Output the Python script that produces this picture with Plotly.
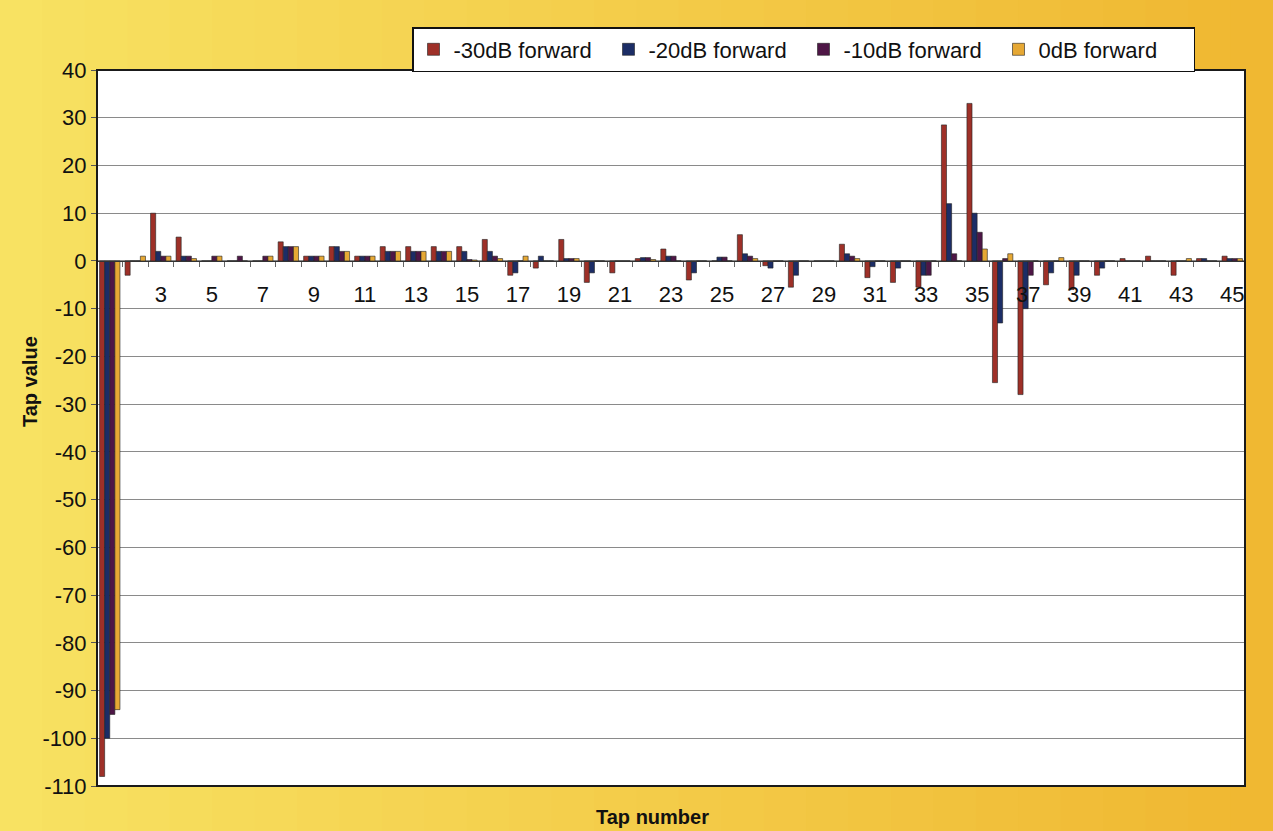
import plotly.graph_objects as go

# tap data
taps = list(range(1, 46))
fwd_30 = [-108, -3, 10, 5, 0, 0, 0, 4, 1, 3, 1, 3, 3, 3, 3, 4.5, -3, -1.5, 4.5, -4.5,
          -2.5, 0.5, 2.5, -4, 0, 5.5, -1, -5.5, 0, 3.5, -3.5, -4.5, -5.5, 28.5, 33,
          -25.5, -28, -5, -6, -3, 0.5, 1, -3, 0.5, 1]
fwd_20 = [-100, 0, 2, 1, 0, 0, 0, 3, 1, 3, 1, 2, 2, 2, 2, 2, -2.5, 1, 0.5, -2.5,
          0, 0.7, 1, -2.5, 0.8, 1.5, -1.5, -3, 0, 1.5, -1.2, -1.5, -3, 12, 10,
          -13, -10, -2.5, -3, -1.5, 0, 0, 0, 0.5, 0.5]
fwd_10 = [-95, 0, 1, 1, 1, 1, 1, 3, 1, 2, 1, 2, 2, 2, 0.3, 1, 0, 0, 0.5, 0,
          0, 0.7, 1, 0, 0.8, 1, 0, 0, 0, 1, 0, 0, -3, 1.5, 6,
          0.5, -3, 0, 0, 0, 0, 0, 0, 0, 0.5]
fwd_0 = [-94, 1, 1, 0.5, 1, 0, 1, 3, 1, 2, 1, 2, 2, 2, 0.2, 0.5, 1, 0, 0.5, 0,
         0, 0.3, 0, 0, 0, 0.5, 0, 0, 0, 0.5, 0, 0, 0, 0, 2.5,
         1.5, 0, 0.7, 0, 0, 0, 0, 0.5, 0, 0.5]

series = [
    ("-30dB forward", fwd_30, "#9E3028"),
    ("-20dB forward", fwd_20, "#1C2D66"),
    ("-10dB forward", fwd_10, "#4E1646"),
    ("0dB forward", fwd_0, "#E6A834"),
]
x_labels = list(range(3, 46, 2))
y_ticks = list(range(-110, 41, 10))

W, H = 1273, 831
L, R, T, B = 97, 28, 70, 45
pw, ph = W - L - R, H - T - B

fig = go.Figure()
for name, vals, col in series:
    fig.add_trace(go.Bar(x=taps, y=vals, name=name, marker_color=col,
                         marker_line=dict(color="#222", width=0.6)))

# yellow/orange backdrop as strips, plot area kept white on top
shapes = []
n = 30
c0, c1 = (248, 226, 98), (240, 184, 50)
for i in range(n):
    f = i / (n - 1)
    rgb = tuple(int(c0[k] + (c1[k] - c0[k]) * f) for k in range(3))
    shapes.append(dict(type="rect", xref="paper", yref="paper", layer="below",
                       x0=(-L + i * W / n) / pw, x1=(-L + (i + 1) * W / n + 1) / pw,
                       y0=-B / ph - 0.01, y1=1 + T / ph + 0.01,
                       fillcolor="rgb(%d,%d,%d)" % rgb, line=dict(width=0)))
shapes.append(dict(type="rect", xref="paper", yref="paper", layer="below",
                   x0=0, x1=1, y0=0, y1=1, fillcolor="white", line=dict(width=0)))
shapes.append(dict(type="rect", xref="paper", yref="paper", layer="above",
                   x0=0, x1=1, y0=0, y1=1, line=dict(color="#1a1a1a", width=2)))

fig.update_layout(
    width=W, height=H,
    margin=dict(l=L, r=R, t=T, b=B),
    paper_bgcolor="#F5D24E", plot_bgcolor="rgba(0,0,0,0)",
    barmode="group", bargap=0.2, bargroupgap=0,
    font=dict(family="Liberation Sans, Arial", size=21, color="#111"),
    shapes=shapes,
    legend=dict(orientation="h", x=(1195 - L) / pw, xanchor="right",
                y=1 + (T - 27) / ph, yanchor="top",
                bgcolor="white", bordercolor="#111", borderwidth=1.5,
                font=dict(size=22), traceorder="normal",
                entrywidth=150, entrywidthmode="pixels"),
    annotations=[
        dict(text="<b>Tap value</b>", xref="paper", yref="paper",
             x=(30 - L) / pw, y=(786 - 382) / ph, textangle=-90,
             xanchor="center", yanchor="middle",
             showarrow=False, font=dict(size=20)),
        dict(text="<b>Tap number</b>", xref="paper", yref="paper",
             x=(652 - L) / pw, y=(786 - 817) / ph, yanchor="middle",
             xanchor="center", showarrow=False, font=dict(size=20)),
    ],
)

fig.update_xaxes(
    range=[0.5, 45.5], tickvals=x_labels, showgrid=False, zeroline=False,
    showline=True, linecolor="#333", linewidth=1,
    anchor="free", position=110 / 150, ticks="", ticklabelstandoff=14,
    tickfont=dict(size=22),
    minor=dict(tickvals=[k + 0.5 for k in taps[:-1]], ticks="outside",
               ticklen=5, tickcolor="#666", showgrid=False),
)
fig.update_yaxes(
    range=[-110, 40], tickvals=y_ticks, ticktext=[str(v) for v in y_ticks],
    showgrid=True, gridcolor="#8a8a8a",
    gridwidth=1, zeroline=False, showline=False, ticks="outside", ticklen=5,
    tickcolor="#555", tickfont=dict(size=22),
)

fig.write_html("out.html", config={"displayModeBar": False},
               post_script="document.body.style.margin='0';")
